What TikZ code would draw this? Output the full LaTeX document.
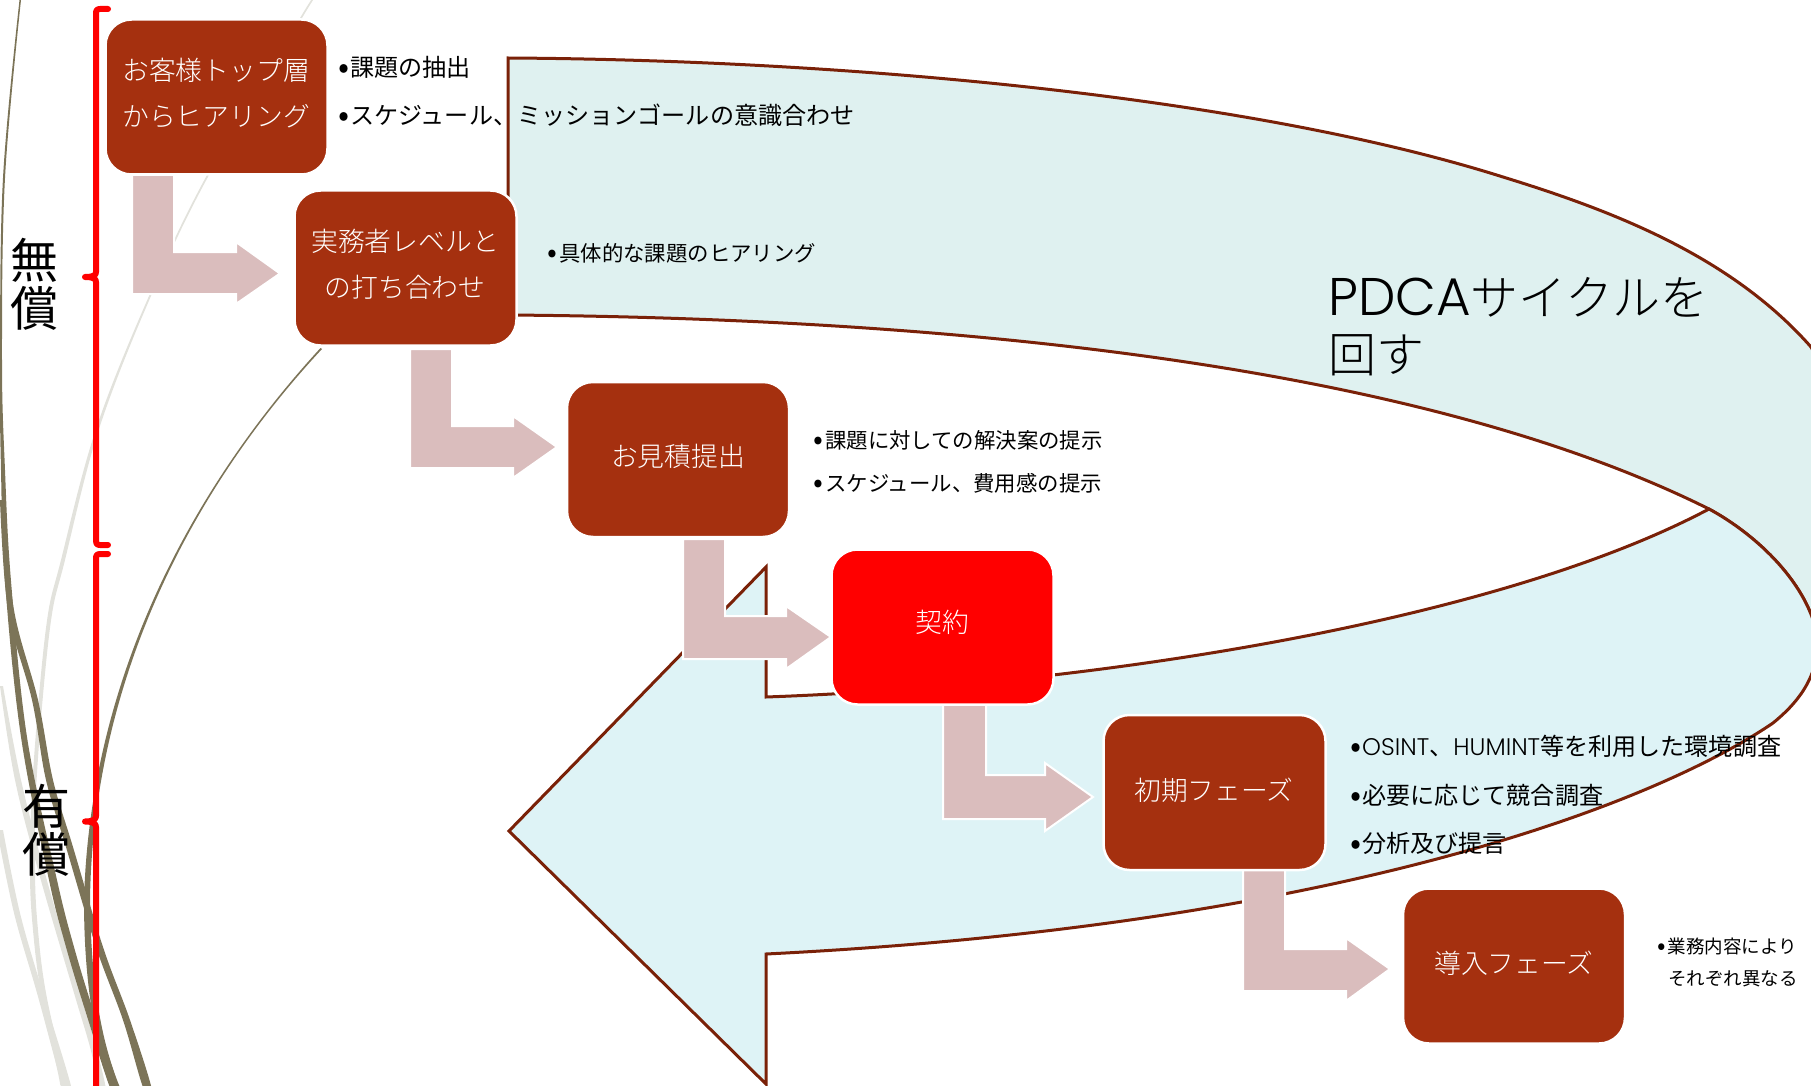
\documentclass[tikz,border=0pt]{standalone}
\usepackage{graphicx}
\usepackage{fontspec}
\setmainfont{Noto Sans CJK JP}[UprightFont=* Light]
\newfontfamily\jpreg{Noto Sans CJK JP}
\newfontfamily\lat{Poppins}[UprightFont=* Light]
\definecolor{boxbrown}{HTML}{A5300F}
\definecolor{edge}{HTML}{7A2108}
\definecolor{bandup}{HTML}{DFF1F0}
\definecolor{bandlow}{HTML}{DEF3F6}
\definecolor{bent}{HTML}{DABDBD}
\definecolor{olive}{HTML}{7C7458}
\definecolor{pale}{HTML}{E2E2DC}
\tikzset{
 stepbox/.style={draw=white,line width=2.5pt,fill=boxbrown,rounded corners=26pt,minimum width=222pt,minimum height=155pt,inner sep=0pt},
 boxtext/.style={text=white,font=\fontsize{26.8}{27}\selectfont,inner sep=0pt,anchor=center},
 note/.style={text=black,anchor=west,inner sep=0pt},
 bigger/.style={note,font=\jpreg\fontsize{24.1}{24}\selectfont},
 mid/.style={note,font=\jpreg\fontsize{21.4}{21.4}\selectfont},
 small/.style={note,font=\jpreg\fontsize{18.5}{18.5}\selectfont},
 band/.style={draw=edge,line width=3pt,line join=miter},
 bentarrow/.style={fill=bent,draw=white,line width=2pt},
 brace/.style={draw=red,line width=6pt,line cap=round,line join=round},
 side/.style={align=center,inner sep=0pt,font=\jpreg\fontsize{48}{48}\selectfont},
 title/.style={anchor=north west,inner sep=0pt,align=left,font=\fontsize{48}{57}\selectfont}
}
\newcommand{\dotmark}{\makebox[12pt][l]{\raisebox{-.08em}{\scalebox{1.35}{•}}}}
\newcommand{\bentshape}[9]{\path[bentarrow] (#1,#3) -- (#1,#5) -- (#6,#5) -- (#6,#8) -- (#9) -- (#6,#7) -- (#6,#4) -- (#2,#4) -- (#2,#3) -- cycle;}
\begin{document}
\begin{tikzpicture}[x=1pt,y=-1pt]
\useasboundingbox (0,0) rectangle (1811,1086);
\clip (0,0) rectangle (1811,1086);
% grass
\fill[pale] plot[smooth,tension=.6] coordinates {(312,0) (300,18) (207,175) (149,296) (96,429) (61,560) (46,628) (33,773) (30,870) (33,930) (41,993) (58,1073) (61,1086) (68,1086) (64,1073) (46,993) (38,930) (35,870) (37,773) (50,628) (65,560) (99,429) (151,296) (209,175) (302,18) (314,0)} -- cycle;
\fill[pale] plot[smooth,tension=.6] coordinates {(0,686) (15,780) (40,877) (74,993) (90,1047) (100,1090) (106,1090) (96,1047) (80,993) (46,877) (21,780) (3,686)} -- cycle;
\fill[pale] plot[smooth,tension=.6] coordinates {(-3,830) (14,913) (37,993) (64,1090) (72,1090) (43,993) (20,913) (3,830)} -- cycle;
\fill[olive] plot[smooth,tension=.6] coordinates {(19.5,0) (3,178) (0,360) (1,470) (5,581) (21,737) (49,880) (66,947) (86,1013) (111,1090) (119,1090) (94,1013) (74,947) (57,880) (27,737) (11,581) (5,470) (2,360) (5,178) (21,0)} -- cycle;
\fill[olive] plot[smooth,tension=.6] coordinates {(0,500) (8,610) (32,700) (46,780) (66,847) (96,947) (123,1020) (144,1090) (152,1090) (130,1020) (103,947) (73,847) (53,780) (38,700) (14,610) (3,500)} -- cycle;
\fill[olive] (320.5,348) .. controls (190,490) and (90,680) .. (84,900) .. controls (84,980) and (94,1040) .. (112,1090) -- (121,1090) .. controls (100,1040) and (91,980) .. (90,900) .. controls (93,680) and (191,490) .. (322,349) -- cycle;
% curved arrow
\path[band,fill=bandup] (508,315) -- (508,58) .. controls (850,60) and (1250,97) .. (1503,177) .. controls (1610,210) and (1730,255) .. (1811,347) -- (1850,420) -- (1850,640) -- (1818,640) .. controls (1810,585) and (1757,535) .. (1709,509) .. controls (1400,355) and (900,318) .. (508,315) -- cycle;
\path[band,fill=bandlow] (1709,509) .. controls (1757,535) and (1810,585) .. (1818,640) .. controls (1818,680) and (1795,705) .. (1773,723) .. controls (1660,800) and (1350,925) .. (766,954) -- (766,1084) -- (509,831) -- (766,567) -- (766,697) .. controls (1100,685) and (1500,620) .. (1709,509) -- cycle;
% bent arrows
\bentshape{132}{174}{175}{252}{294}{236}{242}{304}{280,273.5}
\bentshape{410}{452}{349}{426}{468}{513}{416}{478}{557,447}
\bentshape{683}{725}{539}{616}{659}{786}{606}{669}{831,637}
\bentshape{943}{986}{700}{775}{819}{1045}{763}{831}{1093,797}
\bentshape{1243}{1285}{865}{949}{991}{1346}{938}{1001}{1390,969}
% boxes
\node[stepbox] (b1) at (216.5,97) {};
\node[stepbox] (b2) at (405.5,268) {};
\node[stepbox] (b3) at (678,459.5) {};
\node[stepbox,fill=red] (b4) at (942.5,627) {};
\node[stepbox] (b5) at (1214.5,792.5) {};
\node[stepbox] (b6) at (1514,966) {};
\node[boxtext] (t1a) at (216,70) {お客様トップ層};
\node[boxtext] (t1b) at (216,116) {からヒアリング};
\node[boxtext] (t2a) at (405,241) {実務者レベルと};
\node[boxtext] (t2b) at (405,287) {の打ち合わせ};
\node[boxtext] (t3) at (678,456) {お見積提出};
\node[boxtext] (t4) at (942,622.5) {契約};
\node[boxtext] (t5) at (1214,790) {初期フェーズ};
\node[boxtext] (t6) at (1514,963) {導入フェーズ};
% notes
\node[bigger] (n1) at (338,67) {\dotmark 課題の抽出};
\node[bigger] (n2) at (338,115) {\dotmark スケジュール、ミッションゴールの意識合わせ};
\node[mid] (n3) at (547,253) {\dotmark 具体的な課題のヒアリング};
\node[mid] (n4) at (813,440) {\dotmark 課題に対しての解決案の提示};
\node[mid] (n5) at (813,483) {\dotmark スケジュール、費用感の提示};
\node[bigger] (n6) at (1350,746) {\dotmark {\lat\fontsize{24}{24}\selectfont OSINT}、{\lat\fontsize{24}{24}\selectfont HUMINT}等を利用した環境調査};
\node[bigger] (n7) at (1350,795) {\dotmark 必要に応じて競合調査};
\node[bigger] (n8) at (1350,843) {\dotmark 分析及び提言};
\node[small] (n9) at (1657,946) {\makebox[10.5pt][l]{\raisebox{-.08em}{\scalebox{1.35}{•}}}業務内容により};
\node[small] (n10) at (1668,979) {それぞれ異なる};
\node[title] (pdca) at (1328,277) {{\lat\fontsize{53}{53}\selectfont PDCA}サイクルを\\回す};
% braces
\path[brace] (108,9) -- (100,9) .. controls (96,9) and (96,11) .. (96,15) -- (96,272) .. controls (96,275) and (94,277) .. (85,277) (85,277) .. controls (94,277) and (96,279) .. (96,282) -- (96,538) .. controls (96,543) and (96,545) .. (100,545) -- (108,545);
\path[brace] (108,554) -- (100,554) .. controls (96,554) and (96,556) .. (96,560) -- (96,816) .. controls (96,819) and (94,821.5) .. (85,821.5) (85,821.5) .. controls (94,821.5) and (96,824) .. (96,827) -- (96,1090);
\node[side] (free) at (34,284) {無\\償};
\node[side] (paid) at (47,830) {有\\償};
\end{tikzpicture}
\end{document}
